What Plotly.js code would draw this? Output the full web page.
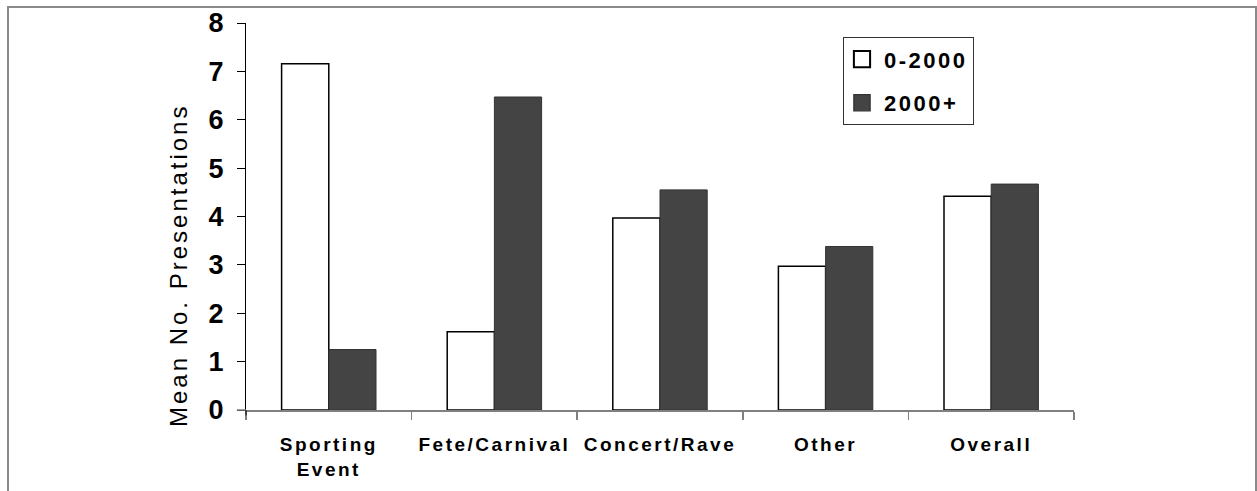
<!DOCTYPE html>
<html>
<head>
<meta charset="utf-8">
<script src="https://cdn.plot.ly/plotly-3.0.1.min.js"></script>
<style>
  html, body { margin: 0; padding: 0; background: #fff; }
  #wrap { position: relative; width: 1257px; height: 491px; overflow: hidden; }
  #chart { width: 1257px; height: 491px; }
  #frame { position: absolute; left: 7px; top: 6px; width: 1250px; height: 500px;
           border: 2px solid #8a8a8a; pointer-events: none; box-sizing: border-box; }
  .xtick text { letter-spacing: 2.5px; }
  .legendtext { letter-spacing: 2.5px; }
  .annotation-text { letter-spacing: 3px; }
  .legendpoints path { transform: translate(18px, 0) scale(1.35); }
</style>
</head>
<body>
<div id="wrap">
  <div id="chart"></div>
  <div id="frame"></div>
</div>
<script>
const categories = ["Sporting<br>Event", "Fete/Carnival", "Concert/Rave", "Other", "Overall"];
const seriesNames = ["0-2000", "2000+"];
const values0to2000 = [7.16, 1.62, 3.97, 2.97, 4.42];
const values2000plus = [1.25, 6.47, 4.55, 3.38, 4.67];
const yTicks = [0, 1, 2, 3, 4, 5, 6, 7, 8];
const yTitle = "Mean No. Presentations";

const fontFam = "Liberation Sans, Arial, sans-serif";

const traces = [
  {
    type: "bar", name: seriesNames[0], x: categories, y: values0to2000, legendgroup: "a",
    marker: { color: "#ffffff", line: { color: "#000000", width: 1.5 } },
    hoverinfo: "y"
  },
  {
    type: "bar", name: seriesNames[1], x: categories, y: values2000plus, legendgroup: "b",
    marker: { color: "#444444", line: { color: "#333333", width: 1 } },
    hoverinfo: "y"
  }
];

const layout = {
  width: 1257, height: 491,
  margin: { l: 246, r: 183, t: 23, b: 81, pad: 0 },
  paper_bgcolor: "#ffffff", plot_bgcolor: "#ffffff",
  barmode: "group", bargap: 0.43, bargroupgap: 0,
  showlegend: true,
  legend: {
    x: 0.721, y: 0.963, xanchor: "left", yanchor: "top",
    bordercolor: "#333333", borderwidth: 1, bgcolor: "#ffffff",
    font: { family: fontFam, size: 22, color: "#000", weight: "bold" },
    traceorder: "grouped", tracegroupgap: 12, itemwidth: 30
  },
  xaxis: {
    type: "category",
    showline: true, linecolor: "#808080", linewidth: 1.5,
    ticks: "outside", tickson: "boundaries", ticklen: 8, tickcolor: "#808080", tickwidth: 1.5,
    showgrid: false, zeroline: false,
    tickfont: { family: fontFam, size: 19, color: "#000", weight: "bold" },
    ticklabelstandoff: 17,
    automargin: false
  },
  yaxis: {
    range: [0, 8], tickvals: yTicks,
    showline: true, linecolor: "#000000", linewidth: 1,
    ticks: "outside", ticklen: 8, tickcolor: "#000", tickwidth: 1,
    showgrid: false, zeroline: false,
    tickfont: { family: fontFam, size: 27, color: "#000", weight: "bold" },
    ticklabelstandoff: 8,
    automargin: false
  },
  shapes: [
    { type: "line", xref: "paper", yref: "paper", x0: -0.011, x1: 0, y0: 0, y1: 0,
      line: { color: "#808080", width: 1.5 } },
    { type: "line", xref: "paper", yref: "paper", x0: 0, x1: 0, y0: 0, y1: -0.014,
      line: { color: "#000000", width: 1 } }
  ],
  annotations: [
    {
      text: yTitle, textangle: -90, showarrow: false,
      xref: "paper", yref: "paper", x: 0, y: 0.372,
      xanchor: "center", yanchor: "middle", xshift: -68,
      font: { family: fontFam, size: 24, color: "#000" }
    }
  ]
};

Plotly.newPlot("chart", traces, layout, { displayModeBar: false, staticPlot: true });
</script>
</body>
</html>
